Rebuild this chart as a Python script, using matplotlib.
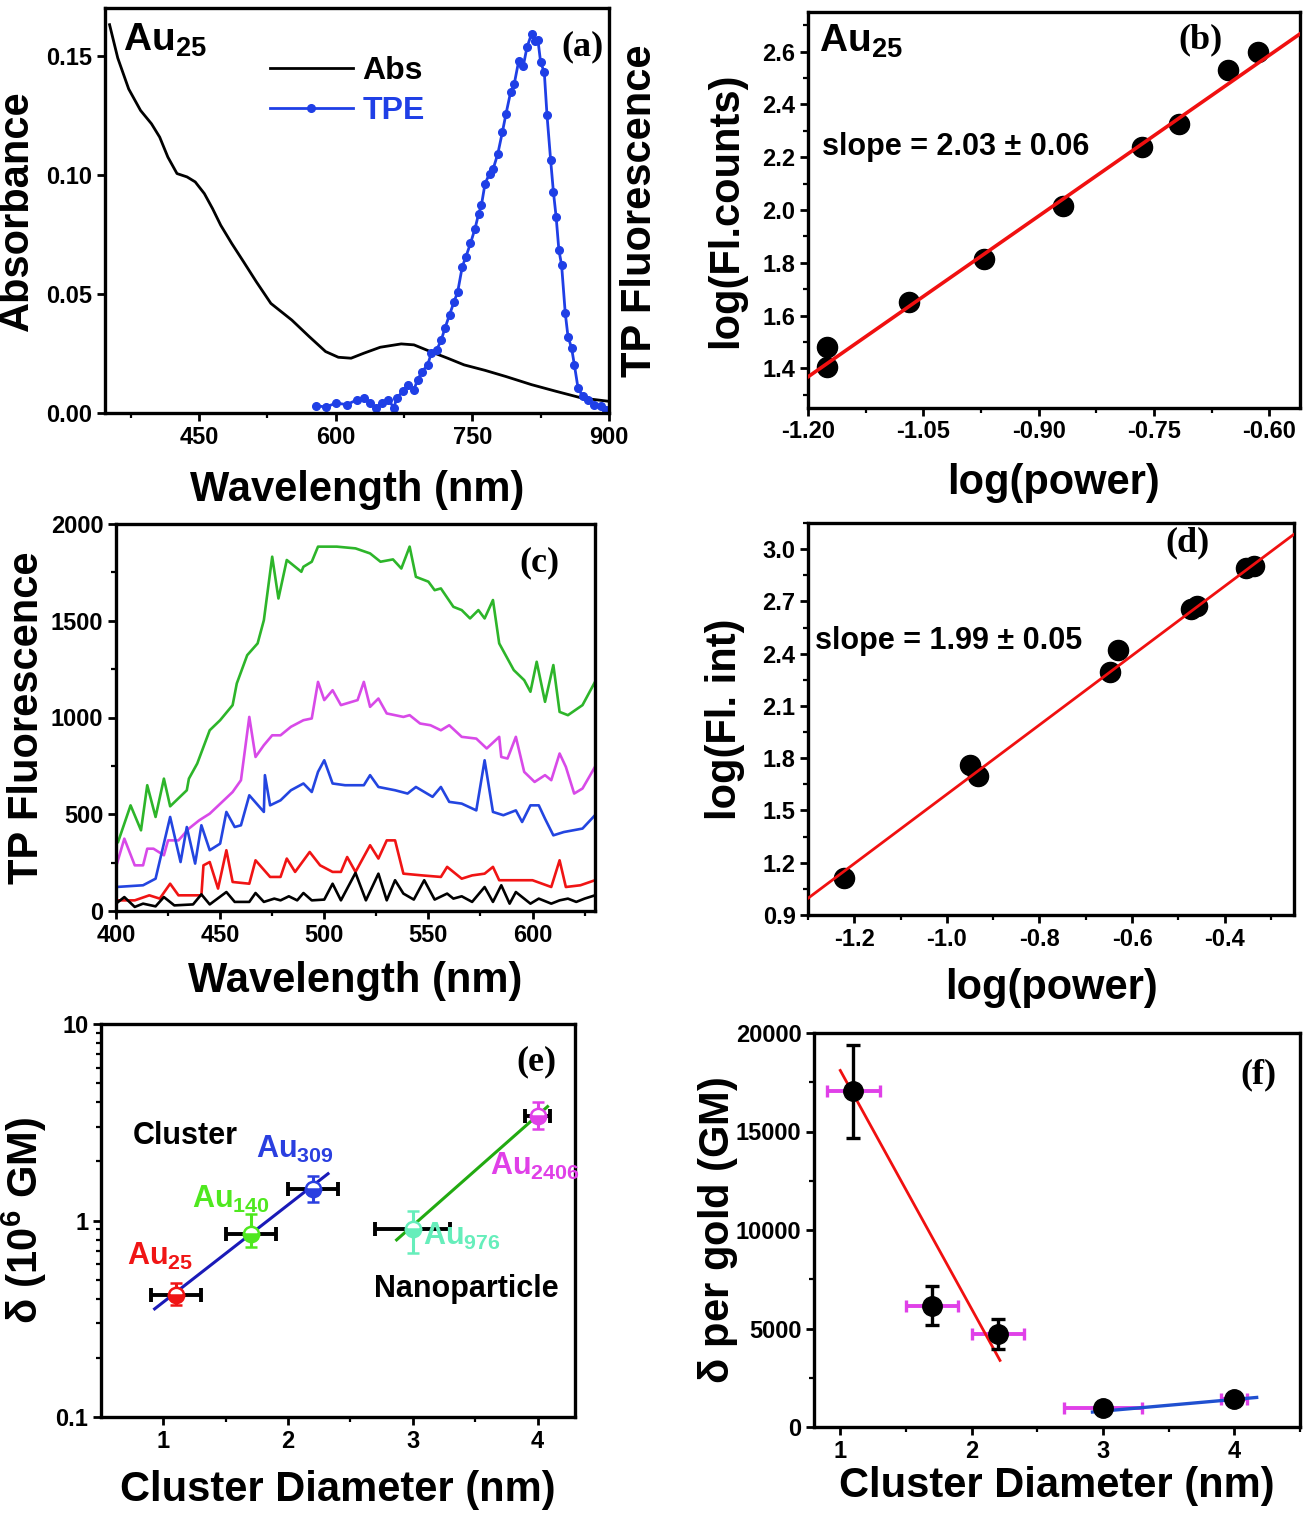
import numpy as np
import matplotlib
matplotlib.use("Agg")
import matplotlib.pyplot as plt
from matplotlib.ticker import MultipleLocator, FixedLocator, NullFormatter, LogLocator

plt.rcParams['font.family'] = ['Liberation Sans', 'DejaVu Sans']
plt.rcParams['font.weight'] = 'bold'
plt.rcParams['mathtext.fontset'] = 'custom'
plt.rcParams['mathtext.rm'] = 'Liberation Sans'
plt.rcParams['mathtext.bf'] = 'Liberation Sans:bold'

# ---- (a) absorbance + TPE of Au25
abs_wl = [352, 361, 373, 386, 398, 407, 416, 426, 437, 446, 456, 465, 474, 486, 499, 513, 529,
          552, 571, 589, 603, 617, 631, 649, 672, 686, 704, 723, 741, 764, 787, 815, 842, 870, 900]
abs_val = [0.163, 0.149, 0.136, 0.127, 0.1214, 0.1158, 0.1074, 0.1005, 0.0991, 0.097, 0.0921,
           0.0858, 0.0788, 0.0712, 0.0635, 0.0551, 0.046, 0.039, 0.0321, 0.0258, 0.0234, 0.023,
           0.0251, 0.0276, 0.029, 0.0286, 0.0258, 0.023, 0.0202, 0.0179, 0.0153, 0.0119, 0.0091,
           0.0063, 0.0049]
tpe_wl = [579, 589, 601, 612, 624, 631, 638, 644, 651, 658, 664, 667, 674, 679, 686, 690, 695,
          701, 705, 711, 716, 720, 725, 730, 734, 739, 743, 748, 753, 757, 760, 764, 769, 773,
          778, 783, 787, 792, 796, 801, 806, 810, 815, 819, 822, 825, 829, 832, 836, 839, 842,
          845, 848, 852, 855, 859, 862, 866, 871, 877, 884, 891, 897]
tpe_val = [0.0031, 0.0025, 0.0042, 0.0035, 0.0056, 0.0063, 0.0042, 0.0021, 0.0042, 0.0056,
           0.0021, 0.0063, 0.0091, 0.0119, 0.0098, 0.014, 0.0174, 0.0202, 0.0251, 0.0265, 0.0307,
           0.0356, 0.0412, 0.0467, 0.0509, 0.0614, 0.0656, 0.0712, 0.0774, 0.0837, 0.0872, 0.0963,
           0.1005, 0.1026, 0.1088, 0.1179, 0.1256, 0.1346, 0.1381, 0.1479, 0.1458, 0.1535, 0.1591,
           0.1563, 0.1566, 0.1472, 0.143, 0.1249, 0.106, 0.0928, 0.0823, 0.0684, 0.0621, 0.0419,
           0.0321, 0.0272, 0.0202, 0.0105, 0.007, 0.0056, 0.0035, 0.0028, 0.0011]

# ---- (b) power dependence Au25
b_x = [-1.175, -1.175, -1.068, -0.971, -0.868, -0.766, -0.718, -0.654, -0.614]
b_y = [1.482, 1.406, 1.652, 1.815, 2.016, 2.237, 2.325, 2.530, 2.600]
b_slope, b_icpt = 2.03, 3.804

# ---- (c) TP fluorescence spectra at increasing power
g_wl = [401, 407, 412, 415, 419, 423, 426, 434, 435, 439, 445, 450, 456, 458, 463, 468, 471, 475,
        478, 482, 489, 490, 494, 497, 506, 515, 522, 527, 533, 537, 541, 544, 550, 553, 556, 562,
        566, 570, 574, 577, 581, 584, 591, 596, 599, 602, 606, 610, 613, 617, 624, 630]
g_val = [357, 546, 417, 650, 486, 684, 541, 624, 684, 762, 934, 986, 1064, 1176, 1322, 1383, 1503,
         1831, 1615, 1814, 1753, 1779, 1805, 1883, 1883, 1874, 1848, 1805, 1817, 1770, 1883, 1727,
         1702, 1658, 1667, 1572, 1555, 1512, 1555, 1512, 1607, 1383, 1245, 1193, 1133, 1288, 1081,
         1271, 1029, 1012, 1064, 1184]
m_wl = [400, 404, 409, 413, 415, 418, 423, 425, 430, 435, 440, 445, 451, 456, 460, 464, 467, 471,
        475, 479, 484, 490, 494, 497, 500, 504, 508, 516, 519, 522, 526, 530, 538, 541, 546, 551,
        556, 560, 566, 573, 578, 584, 585, 588, 592, 596, 601, 606, 609, 613, 616, 620, 624, 630]
m_val = [228, 374, 236, 236, 322, 322, 288, 365, 365, 426, 469, 503, 564, 615, 676, 1003, 796, 857,
         908, 908, 952, 986, 995, 1184, 1090, 1141, 1064, 1090, 1184, 1055, 1098, 1021, 1003, 1012,
         969, 960, 934, 960, 900, 891, 840, 900, 796, 788, 900, 719, 667, 702, 676, 814, 745, 607,
         633, 745]
bl_wl = [400, 413, 419, 426, 431, 434, 438, 441, 445, 450, 453, 457, 460, 464, 471, 471.5, 474,
         479, 484, 490, 494, 497, 500, 504, 510, 519, 522, 526, 534, 540, 544, 552, 556, 560, 566,
         573, 577, 581, 586, 592, 595, 599, 603, 606, 610, 615, 624, 630]
bl_val = [124, 133, 167, 486, 253, 434, 245, 443, 314, 348, 512, 434, 443, 598, 512, 702, 546, 572,
          624, 659, 615, 719, 779, 659, 650, 650, 702, 641, 624, 607, 641, 590, 641, 564, 555, 520,
          779, 512, 495, 520, 460, 546, 546, 477, 391, 408, 426, 495]
r_wl = [400, 409, 416, 421, 426, 430, 441, 442, 445, 449, 453, 456, 464, 467, 474, 479, 482, 486,
        493, 498, 504, 508, 511, 515, 522, 526, 530, 534, 538, 547, 556, 559, 566, 571, 577, 581,
        584, 591, 600, 609, 613, 616, 623, 630]
r_val = [55, 55, 81, 64, 141, 81, 81, 236, 253, 116, 314, 150, 141, 262, 176, 176, 271, 202, 305,
         236, 202, 202, 279, 202, 340, 271, 365, 365, 193, 184, 176, 228, 167, 184, 193, 228, 159,
         159, 159, 124, 262, 124, 133, 159]
k_wl = [400, 404, 409, 413, 419, 423, 428, 437, 441, 445, 453, 457, 464, 467, 471, 476, 479, 483,
        487, 490, 494, 500, 504, 508, 515, 520, 526, 530, 534, 538, 543, 548, 553, 559, 562, 566,
        571, 577, 581, 585, 589, 592, 599, 603, 609, 613, 617, 621, 625, 630]
k_val = [38, 72, 21, 38, 24, 72, 29, 34, 86, 34, 98, 47, 47, 93, 47, 64, 55, 76, 55, 93, 55, 59,
         141, 55, 197, 55, 193, 55, 159, 90, 59, 159, 59, 90, 64, 76, 47, 124, 47, 133, 38, 98, 38,
         64, 38, 55, 64, 47, 64, 81]

# ---- (d) power dependence
d_x = [-1.222, -0.950, -0.932, -0.648, -0.630, -0.473, -0.460, -0.353, -0.337]
d_y = [1.111, 1.763, 1.700, 2.294, 2.420, 2.655, 2.674, 2.889, 2.904]
d_slope, d_icpt = 1.99, 3.583

# ---- (e) cross section vs diameter
e_names = ['25', '140', '309', '976', '2406']
e_d = [1.1, 1.7, 2.2, 3.0, 4.0]
e_dx = [0.2, 0.2, 0.2, 0.3, 0.1]
e_delta = [0.42, 0.855, 1.45, 0.90, 3.42]
e_lo = [0.05, 0.125, 0.21, 0.22, 0.49]
e_hi = [0.06, 0.225, 0.24, 0.22, 0.58]
e_cols = ['#f01515', '#4fe81f', '#2a3fe0', '#66eebb', '#e040e8']
e_fit_cluster_x = [0.93, 2.32]
e_fit_cluster_y = [0.355, 1.73]
e_fit_np_x = [2.87, 4.08]
e_fit_np_y = [0.797, 3.80]

# ---- (f) cross section per gold atom
f_d = [1.1, 1.7, 2.2, 3.0, 4.0]
f_dx = [0.2, 0.2, 0.2, 0.3, 0.1]
f_val = [17040, 6160, 4720, 960, 1420]
f_err = [2370, 1000, 740, 200, 200]
f_fit1_x = [1.0, 2.216]
f_fit1_y = [18100, 3380]
f_fit2_x = [2.92, 4.17]
f_fit2_y = [760, 1500]

W, H = 1305, 1513
fig = plt.figure(figsize=(W / 100, H / 100), dpi=100)
TICKFONT = ['Liberation Sans Narrow', 'Liberation Sans', 'DejaVu Sans']


def box(l, t, r, b):
    return fig.add_axes([l / W, 1 - b / H, (r - l) / W, (b - t) / H])


def style(ax):
    for s in ax.spines.values():
        s.set_linewidth(2.4)
    ax.tick_params(which='major', direction='out', length=6, width=2, labelsize=17, pad=3)
    ax.tick_params(which='minor', direction='out', length=3.5, width=1.6)
    ax.tick_params(top=False, right=False, which='both')
    for lab in ax.get_xticklabels() + ax.get_yticklabels():
        lab.set_fontweight('bold')
        lab.set_family(TICKFONT)


def labels(ax, xl, yl, xpos, ypos):
    ax.set_xlabel(xl, fontsize=30, fontweight='bold')
    ax.set_ylabel(yl, fontsize=30, fontweight='bold')
    ax.xaxis.set_label_coords(0.5, xpos)
    ax.yaxis.set_label_coords(ypos, 0.5)


PANEL = dict(fontsize=26, fontweight='bold', family=['Liberation Serif', 'DejaVu Serif'])
AU = 28

# (a)
ax = box(105, 8, 609, 413)
ax.plot(abs_wl, abs_val, color='black', lw=2.0, label='Abs')
ax.plot(tpe_wl, tpe_val, color='#1f3fe6', lw=2.0, marker='o', ms=5.5, label='TPE')
ax.set_xlim(347, 900)
ax.set_ylim(0, 0.17)
ax.xaxis.set_major_locator(FixedLocator([450, 600, 750, 900]))
ax.xaxis.set_minor_locator(FixedLocator([375, 525, 675, 825]))
ax.yaxis.set_major_locator(MultipleLocator(0.05))
ax.yaxis.set_major_formatter(plt.FuncFormatter(lambda v, p: f"{v:.2f}"))
style(ax)
labels(ax, 'Wavelength (nm)', 'Absorbance', -0.14, -0.135)
leg = ax.legend(loc='upper left', bbox_to_anchor=(0.295, 0.92), frameon=False, fontsize=23,
                handlelength=2.6, handletextpad=0.3, labelspacing=0.3, borderpad=0)
for t, c in zip(leg.get_texts(), ['black', '#1f3fe6']):
    t.set_color(c)
    t.set_fontweight('bold')
ax.text(0.035, 0.895, r'$\mathbf{Au_{25}}$', transform=ax.transAxes, fontsize=AU)
ax.text(0.948, 0.905, '(a)', transform=ax.transAxes, ha='center', va='center', **PANEL)
ax2 = ax.twinx()
ax2.set_yticks([])
ax2.set_ylabel('TP Fluorescence', fontsize=30, fontweight='bold', labelpad=8)

# (b)
ax = box(808, 12, 1300, 408)
ax.scatter(b_x, b_y, s=210, color='black', zorder=3)
bx_line = np.array([-1.2, -0.56])
ax.plot(bx_line, b_slope * bx_line + b_icpt, color='#f01010', lw=2.6, zorder=4)
ax.set_xlim(-1.2, -0.56)
ax.set_ylim(1.25, 2.75)
ax.xaxis.set_major_locator(MultipleLocator(0.15))
ax.xaxis.set_minor_locator(MultipleLocator(0.075))
ax.yaxis.set_major_locator(FixedLocator([1.4, 1.6, 1.8, 2.0, 2.2, 2.4, 2.6]))
ax.yaxis.set_minor_locator(FixedLocator([1.3, 1.5, 1.7, 1.9, 2.1, 2.3, 2.5, 2.7]))
ax.xaxis.set_major_formatter(plt.FuncFormatter(lambda v, p: f"{v:.2f}"))
ax.yaxis.set_major_formatter(plt.FuncFormatter(lambda v, p: f"{v:.1f}"))
style(ax)
labels(ax, 'log(power)', 'log(Fl.counts)', -0.14, -0.125)
ax.text(0.022, 0.9, r'$\mathbf{Au_{25}}$', transform=ax.transAxes, fontsize=AU)
ax.text(0.028, 0.66, 'slope = 2.03 \u00b1 0.06', transform=ax.transAxes, va='center',
        fontsize=22, fontweight='bold')
ax.text(0.797, 0.93, '(b)', transform=ax.transAxes, ha='center', va='center', **PANEL)

# (c)
ax = box(116, 524, 595, 911)
for wl, val, c in [(g_wl, g_val, '#2db52a'), (m_wl, m_val, '#d84ae8'), (bl_wl, bl_val, '#2345e0'),
                   (r_wl, r_val, '#f01414'), (k_wl, k_val, 'black')]:
    ax.plot(wl, val, color=c, lw=1.9)
ax.set_xlim(400, 630)
ax.set_ylim(0, 2000)
ax.xaxis.set_major_locator(MultipleLocator(50))
ax.xaxis.set_minor_locator(MultipleLocator(25))
ax.yaxis.set_major_locator(MultipleLocator(500))
ax.yaxis.set_minor_locator(MultipleLocator(250))
style(ax)
labels(ax, 'Wavelength (nm)', 'TP Fluorescence', -0.13, -0.145)
ax.text(0.885, 0.9, '(c)', transform=ax.transAxes, ha='center', va='center', **PANEL)

# (d)
ax = box(808, 523, 1294, 915)
ax.scatter(d_x, d_y, s=210, color='black', zorder=3)
dx_line = np.array([-1.3, -0.25])
ax.plot(dx_line, d_slope * dx_line + d_icpt, color='#f01010', lw=2.0, zorder=4)
ax.set_xlim(-1.3, -0.25)
ax.set_ylim(0.9, 3.15)
ax.xaxis.set_major_locator(FixedLocator([-1.2, -1.0, -0.8, -0.6, -0.4]))
ax.xaxis.set_minor_locator(FixedLocator([-1.3, -1.1, -0.9, -0.7, -0.5, -0.3]))
ax.yaxis.set_major_locator(MultipleLocator(0.3))
ax.yaxis.set_minor_locator(MultipleLocator(0.15))
ax.xaxis.set_major_formatter(plt.FuncFormatter(lambda v, p: f"{v:.1f}"))
ax.yaxis.set_major_formatter(plt.FuncFormatter(lambda v, p: f"{v:.1f}"))
style(ax)
labels(ax, 'log(power)', 'log(Fl. int)', -0.135, -0.13)
ax.text(0.014, 0.70, 'slope = 1.99 \u00b1 0.05', transform=ax.transAxes, va='center',
        fontsize=22, fontweight='bold')
ax.text(0.78, 0.949, '(d)', transform=ax.transAxes, ha='center', va='center', **PANEL)

# (e)
ax = box(101, 1024, 575, 1417)
ax.plot(e_fit_cluster_x, e_fit_cluster_y, color='#1a1ab8', lw=2.2, zorder=4)
ax.plot(e_fit_np_x, e_fit_np_y, color='#22aa11', lw=2.2, zorder=4)
for d, dx, v, lo, hi, c in zip(e_d, e_dx, e_delta, e_lo, e_hi, e_cols):
    ax.errorbar(d, v, xerr=dx, fmt='none', ecolor='black', elinewidth=2.8, capsize=5, capthick=2.8,
                zorder=3)
    ax.errorbar(d, v, yerr=[[lo], [hi]], fmt='o', color=c, ms=11, mfc=c, mfcalt='white',
                fillstyle='bottom', mew=1.8, elinewidth=2.2, capsize=4, capthick=2, zorder=5)
ax.set_yscale('log')
ax.set_xlim(0.5, 4.3)
ax.set_ylim(0.1, 10)
ax.xaxis.set_major_locator(FixedLocator([1, 2, 3, 4]))
ax.xaxis.set_minor_locator(FixedLocator([1.5, 2.5, 3.5]))
ax.yaxis.set_major_locator(FixedLocator([0.1, 1, 10]))
ax.yaxis.set_major_formatter(plt.FuncFormatter(lambda v, p: f"{v:g}"))
ax.yaxis.set_minor_locator(LogLocator(subs=np.arange(2, 10)))
ax.yaxis.set_minor_formatter(NullFormatter())
style(ax)
labels(ax, 'Cluster Diameter (nm)', r'$\mathbf{\delta}$ (10$^{\mathbf{6}}$ GM)', -0.135, -0.11)
ax.text(0.177, 0.715, 'Cluster', transform=ax.transAxes, ha='center', va='center', fontsize=22,
        fontweight='bold')
ax.text(0.77, 0.326, 'Nanoparticle', transform=ax.transAxes, ha='center', va='center', fontsize=22,
        fontweight='bold')
e_lab_pos = [(0.055, 0.387), (0.192, 0.532), (0.327, 0.659), (0.679, 0.438), (0.82, 0.616)]
for n, (px, py), c in zip(e_names, e_lab_pos, e_cols):
    ax.text(px, py, r'$\mathbf{Au_{%s}}$' % n, transform=ax.transAxes, color=c, fontsize=22)
ax.text(0.918, 0.903, '(e)', transform=ax.transAxes, ha='center', va='center', **PANEL)

# (f)
ax = box(814, 1033, 1300, 1427)
ax.plot(f_fit1_x, f_fit1_y, color='#f01010', lw=2.0, zorder=4)
ax.plot(f_fit2_x, f_fit2_y, color='#2050d0', lw=2.4, zorder=4)
ax.errorbar(f_d, f_val, xerr=f_dx, fmt='none', ecolor='#e040e8', elinewidth=2.8, capsize=4,
            capthick=2.4, zorder=3)
ax.errorbar(f_d, f_val, yerr=f_err, fmt='o', color='black', ms=14, elinewidth=2.4, capsize=5,
            capthick=2.4, zorder=5)
ax.set_xlim(0.8, 4.5)
ax.set_ylim(0, 20000)
ax.xaxis.set_major_locator(FixedLocator([1, 2, 3, 4]))
ax.xaxis.set_minor_locator(FixedLocator([1.5, 2.5, 3.5, 4.5]))
ax.yaxis.set_major_locator(MultipleLocator(5000))
ax.yaxis.set_minor_locator(MultipleLocator(2500))
style(ax)
labels(ax, 'Cluster Diameter (nm)', r'$\mathbf{\delta}$ per gold (GM)', -0.1, -0.152)
ax.text(0.914, 0.893, '(f)', transform=ax.transAxes, ha='center', va='center', **PANEL)

fig.savefig('out.png', dpi=100)
